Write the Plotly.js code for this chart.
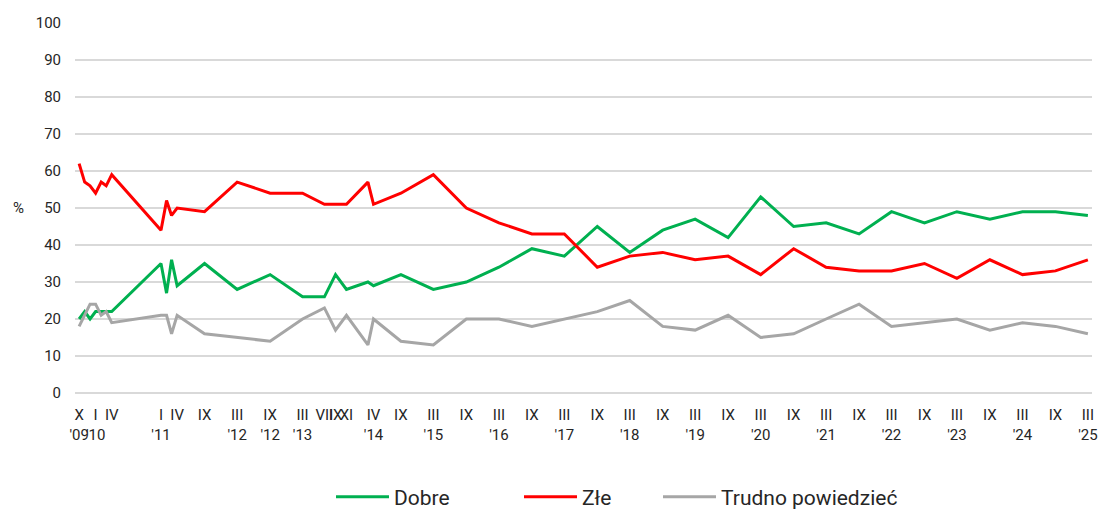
<!DOCTYPE html>
<html>
<head>
<meta charset="utf-8">
<script src="https://cdn.plot.ly/plotly-3.0.1.min.js"></script>
<style>
html,body{margin:0;padding:0;background:#fff;}
#chart{width:1099px;height:512px;}
</style>
</head>
<body>
<div id="chart"></div>
<script>
// Survey dates (month of survey)
var surveyDates = ['2009-10-01','2009-11-01','2009-12-01','2010-01-01','2010-02-01','2010-03-01','2010-04-01',
  '2011-01-01','2011-02-01','2011-03-01','2011-04-01','2011-09-01',
  '2012-03-01','2012-09-01','2013-03-01','2013-07-01','2013-09-01','2013-11-01',
  '2014-03-01','2014-04-01','2014-09-01','2015-03-01','2015-09-01','2016-03-01','2016-09-01',
  '2017-03-01','2017-09-01','2018-03-01','2018-09-01','2019-03-01','2019-09-01',
  '2020-03-01','2020-09-01','2021-03-01','2021-09-01','2022-03-01','2022-09-01',
  '2023-03-01','2023-09-01','2024-03-01','2024-09-01','2025-03-01'];

var dobre = [20,22,20,22,22,22,22, 35,27,36,29,35, 28,32,26,26,32,28, 30,29,32,28,30,34,39, 37,45,38,44,47,42, 53,45,46,43,49,46, 49,47,49,49,48];
var zle = [62,57,56,54,57,56,59, 44,52,48,50,49, 57,54,54,51,51,51, 57,51,54,59,50,46,43, 43,34,37,38,36,37, 32,39,34,33,33,35, 31,36,32,33,36];
var trudno = [18,21,24,24,21,22,19, 21,21,16,21,16, 15,14,20,23,17,21, 13,20,14,13,20,20,18, 20,22,25,18,17,21, 15,16,20,24,18,19, 20,17,19,18,16];

// Axis ticks
var tickDates = ['2009-10-01','2010-01-01','2010-04-01','2011-01-01','2011-04-01','2011-09-01',
  '2012-03-01','2012-09-01','2013-03-01','2013-07-01','2013-09-01','2013-11-01',
  '2014-04-01','2014-09-01','2015-03-01','2015-09-01','2016-03-01','2016-09-01',
  '2017-03-01','2017-09-01','2018-03-01','2018-09-01','2019-03-01','2019-09-01',
  '2020-03-01','2020-09-01','2021-03-01','2021-09-01','2022-03-01','2022-09-01',
  '2023-03-01','2023-09-01','2024-03-01','2024-09-01','2025-03-01'];
var tickMonths = ['X','I','IV','I','IV','IX','III','IX','III','VII','IX','XI','IV','IX','III','IX','III','IX',
  'III','IX','III','IX','III','IX','III','IX','III','IX','III','IX','III','IX','III','IX','III'];
var tickYears = ["'09","'10","","'11","","","'12","'12","'13","","","","'14","","'15","","'16","",
  "'17","","'18","","'19","","'20","","'21","","'22","","'23","","'24","","'25"];

var seriesNames = ['Dobre','Złe','Trudno powiedzieć'];
var seriesColors = ['#00b050','#ff0000','#a6a6a6'];

var tickText = tickMonths.map(function(m,i){ return tickYears[i] ? m + '<br>' + tickYears[i] : m; });

var series = [dobre, zle, trudno];
var legendIds = ['legend','legend2','legend3'];
var traces = series.map(function(vals, i){
  return {
    x: surveyDates, y: vals, type: 'scatter', mode: 'lines',
    name: seriesNames[i], legend: legendIds[i],
    line: {color: seriesColors[i], width: 3}
  };
});

var font = {family: 'Roboto, "Liberation Sans", sans-serif', size: 15, color: '#262626'};
var legendBase = {
  orientation: 'h', xref: 'container', yref: 'container', xanchor: 'left', yanchor: 'middle',
  y: 1 - 497/512, font: {family: font.family, size: 21, color: '#262626'},
  itemwidth: 53, bgcolor: 'rgba(0,0,0,0)', borderwidth: 0
};
function leg(px){ var o = JSON.parse(JSON.stringify(legendBase)); o.x = px/1099; return o; }

var layout = {
  width: 1099, height: 512,
  margin: {l: 75, r: 7, t: 23, b: 119},
  paper_bgcolor: '#fff', plot_bgcolor: '#fff',
  font: font,
  showlegend: true,
  legend: leg(331), legend2: leg(519), legend3: leg(658),
  xaxis: {
    type: 'date', range: ['2009-09-08', '2025-03-24'],
    tickmode: 'array', tickvals: tickDates, ticktext: tickText,
    showgrid: false, zeroline: false, showline: false,
    ticks: 'outside', ticklen: 8, tickcolor: 'rgba(0,0,0,0)',
    tickangle: 0, tickfont: {family: font.family, size: 15, color: '#262626'}
  },
  yaxis: {
    range: [0, 100], dtick: 10, tick0: 0,
    showgrid: true, gridcolor: '#d9d9d9', gridwidth: 2,
    zeroline: true, zerolinecolor: '#d9d9d9', zerolinewidth: 2,
    showline: false, ticks: 'outside', ticklen: 10, tickcolor: 'rgba(0,0,0,0)',
    tickfont: {family: font.family, size: 15, color: '#262626'}
  },
  annotations: [{
    text: '%', xref: 'paper', yref: 'paper', x: -57/1017, y: 0.5,
    xanchor: 'center', yanchor: 'middle', showarrow: false,
    font: {family: font.family, size: 15, color: '#262626'}
  }]
};

Plotly.newPlot('chart', traces, layout, {displayModeBar: false, staticPlot: true});
</script>
</body>
</html>
